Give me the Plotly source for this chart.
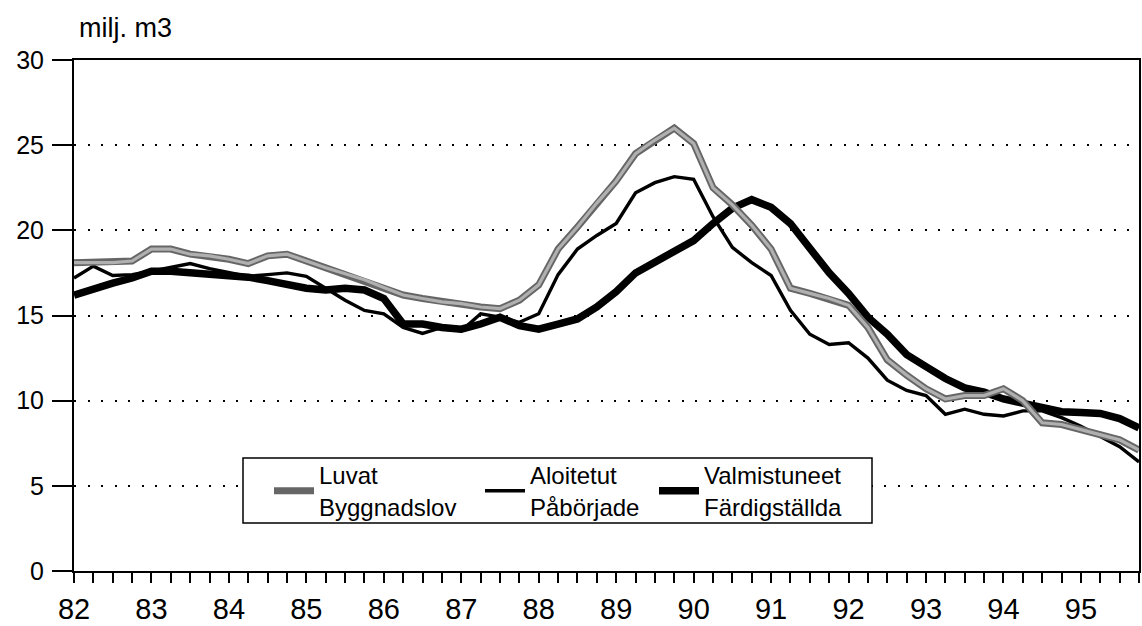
import plotly.graph_objects as go

# Quarterly observations, 1982 Q1 .. 1995 Q4 (x in years, 82.00 .. 95.75)
quarters = [82 + i * 0.25 for i in range(56)]
year_ticks = list(range(82, 96))
year_labels = [str(y) for y in year_ticks]

luvat = [18.1, 18.1, 18.1, 18.2, 18.9, 18.9, 18.6, 18.5,
         18.3, 18.05, 18.5, 18.6, 18.2, 17.8, 17.45, 17.1,
         16.65, 16.2, 16.0, 15.8, 15.7, 15.5, 15.4, 15.9,
         16.8, 18.9, 20.2, 21.6, 22.9, 24.5, 25.3, 26.0,
         25.1, 22.5, 21.5, 20.3, 18.9, 16.6, 16.3, 16.0,
         15.6, 14.3, 12.4, 11.5, 10.7, 10.1, 10.3, 10.3,
         10.7, 10.0, 8.7, 8.6, 8.3, 8.0, 7.7, 7.1]

aloitetut = [17.2, 17.9, 17.35, 17.4, 17.6, 17.8, 18.05, 17.75,
             17.5, 17.3, 17.4, 17.5, 17.3, 16.6, 15.9, 15.3,
             15.1, 14.3, 13.95, 14.3, 14.1, 15.1, 14.9, 14.6,
             15.1, 17.4, 18.9, 19.7, 20.4, 22.2, 22.8, 23.15,
             23.0, 20.8, 19.0, 18.1, 17.35, 15.3, 13.9, 13.3,
             13.4, 12.5, 11.2, 10.6, 10.3, 9.2, 9.5, 9.2,
             9.1, 9.4, 9.4, 9.0, 8.5, 7.9, 7.3, 6.4]

valmistuneet = [16.2, 16.6, 16.9, 17.2, 17.6, 17.6, 17.5, 17.5,
                17.4, 17.25, 17.05, 16.8, 16.6, 16.5, 16.6, 16.5,
                16.0, 14.5, 14.5, 14.3, 14.2, 14.5, 14.9, 14.4,
                14.2, 14.5, 14.8, 15.5, 16.4, 17.5, 18.1, 18.8,
                19.4, 20.4, 21.3, 21.8, 21.35, 20.4, 19.0, 17.5,
                16.3, 14.9, 13.9, 12.7, 12.0, 11.3, 10.75, 10.5,
                10.1, 9.85, 9.65, 9.35, 9.3, 9.25, 8.95, 8.4]

names = ["Luvat<br>Byggnadslov", "Aloitetut<br>Påbörjade", "Valmistuneet<br>Färdigställda"]

FONT = "Liberation Sans, Arial, sans-serif"

fig = go.Figure()
fig.add_trace(go.Scatter(x=quarters, y=valmistuneet, mode="lines", name=names[2],
                         line=dict(color="black", width=7.5), legend="legend3"))
fig.add_trace(go.Scatter(x=quarters, y=aloitetut, mode="lines", name=names[1],
                         line=dict(color="black", width=3.4), legend="legend2"))
fig.add_trace(go.Scatter(x=quarters, y=luvat, mode="lines", name=names[0],
                         line=dict(color="#666666", width=7), legend="legend"))
fig.add_trace(go.Scatter(x=quarters, y=luvat, mode="lines", showlegend=False,
                         line=dict(color="#b0b0b0", width=3.2), hoverinfo="skip"))

fig.update_xaxes(range=[82, 95.75], tickvals=year_ticks, ticktext=year_labels,
                 ticks="outside", ticklen=10, tickwidth=1.5, tickcolor="black",
                 minor=dict(dtick=0.25, tick0=82, ticks="outside", ticklen=10,
                            tickwidth=1.5, tickcolor="black", showgrid=False),
                 showgrid=False, zeroline=False, showline=True, linecolor="black",
                 linewidth=2, mirror=True, automargin=False,
                 tickfont=dict(size=29, family=FONT, color="black"),
                 ticklabelstandoff=1)
fig.update_yaxes(range=[0, 30], tickvals=[0, 5, 10, 15, 20, 25, 30],
                 ticks="outside", ticklen=20, tickwidth=1.5, tickcolor="black",
                 showgrid=True, gridcolor="black", gridwidth=2, griddash="2px,11.5px",
                 zeroline=False, showline=True, linecolor="black", linewidth=2,
                 mirror=True, automargin=False,
                 tickfont=dict(size=25, family=FONT, color="black"),
                 ticklabelstandoff=3)

PL, PR, PT, PB = 74, 1139, 60, 571
def px_x(p):
    return (p - PL) / (PR - PL)
def px_y(p):
    return (PB - p) / (PB - PT)

leg_common = dict(orientation="h", xanchor="left", yanchor="middle", y=px_y(491),
                  bgcolor="rgba(0,0,0,0)", borderwidth=0,
                  font=dict(size=24, family=FONT, color="black"),
                  valign="middle", itemwidth=40)

fig.update_layout(
    width=1142, height=626,
    margin=dict(l=PL, r=1142 - PR, t=PT, b=626 - PB, autoexpand=False),
    plot_bgcolor="white", paper_bgcolor="white",
    font=dict(family=FONT, color="black"),
    showlegend=True,
    legend=dict(x=px_x(269), **leg_common),
    legend2=dict(x=px_x(480), **leg_common),
    legend3=dict(x=px_x(654), **leg_common),
    shapes=[dict(type="rect", xref="paper", yref="paper",
                 x0=px_x(243), x1=px_x(872), y0=px_y(523), y1=px_y(458),
                 fillcolor="white", line=dict(color="black", width=1.5), layer="above")],
    annotations=[dict(text="milj. m3", xref="paper", yref="paper", x=px_x(77), y=px_y(28),
                      xanchor="left", yanchor="middle", showarrow=False,
                      font=dict(size=27, family=FONT, color="black"))],
)

fig.write_html("out.html", config={"displayModeBar": False},
               post_script="document.body.style.margin='0';document.body.style.padding='0';")
